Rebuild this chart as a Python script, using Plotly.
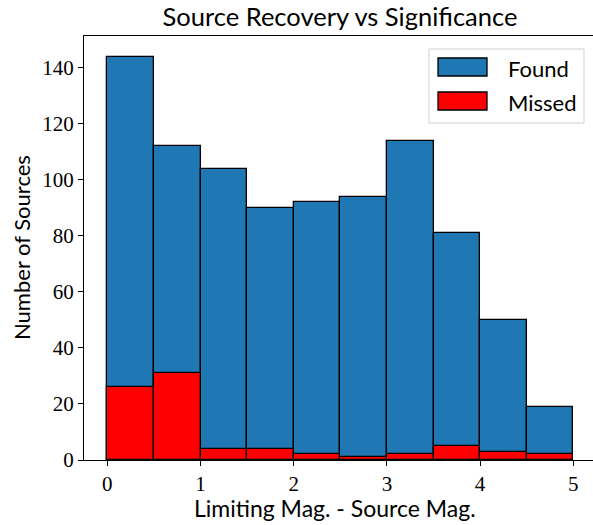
import plotly.graph_objects as go

bin_left = [0.0, 0.5, 1.0, 1.5, 2.0, 2.5, 3.0, 3.5, 4.0, 4.5]
bin_width = 0.5
found_counts = [144, 112, 104, 90, 92, 94, 114, 81, 50, 19]
missed_counts = [26, 31, 4, 4, 2, 1, 2, 5, 3, 2]
x_ticks = [0, 1, 2, 3, 4, 5]
y_ticks = [0, 20, 40, 60, 80, 100, 120, 140]

SANS = "Lato, DejaVu Sans, sans-serif"
SERIF = "Liberation Serif, DejaVu Serif, serif"

fig = go.Figure()
fig.add_trace(go.Bar(
    x=bin_left, y=found_counts, width=[bin_width] * len(bin_left), offset=0,
    name="Found", marker=dict(color="#1f77b4", line=dict(color="black", width=1.3)),
    showlegend=False,
))
fig.add_trace(go.Bar(
    x=bin_left, y=missed_counts, width=[bin_width] * len(bin_left), offset=0,
    name="Missed", marker=dict(color="#ff0000", line=dict(color="black", width=1.3)),
    showlegend=False,
))

W, H = 593, 525
L, R, T, B = 84, 0, 36, 65
PW, PH = W - L - R, H - T - B

fig.update_layout(
    width=W, height=H, barmode="overlay", bargap=0,
    margin=dict(l=L, r=R, t=T, b=B, autoexpand=False),
    plot_bgcolor="white", paper_bgcolor="white",
    title=dict(text="Source Recovery vs Significance", xref="container", yref="container",
               x=340 / W, xanchor="center",
               y=1 - 17 / H, yanchor="middle", font=dict(family=SANS, size=25.5, color="black")),
    xaxis=dict(range=[-0.25, -0.25 + PW / 93.2], tickvals=x_ticks, ticks="outside",
               ticklen=5, tickwidth=1, tickcolor="black", showline=True, linecolor="black",
               linewidth=1, mirror=True, showgrid=False, zeroline=False, automargin=False,
               tickfont=dict(family=SERIF, size=21, color="black"),
               title=dict(text="")),
    yaxis=dict(range=[0, 151.4], tickvals=y_ticks, ticks="outside", ticklen=5, tickwidth=1,
               tickcolor="black", showline=True, linecolor="black", linewidth=1, mirror=False,
               showgrid=False, zeroline=False, automargin=False,
               tickfont=dict(family=SERIF, size=21, color="black"),
               title=dict(text="")),
)

def px(x):
    return (x - L) / PW
def py(y):
    return (H - B - y) / PH

shapes = [
    dict(type="rect", xref="paper", yref="paper", x0=px(429), x1=px(584), y0=py(123), y1=py(49),
         line=dict(color="#d0d0d0", width=1), fillcolor="rgba(255,255,255,0.8)", layer="above"),
    dict(type="rect", xref="paper", yref="paper", x0=px(438), x1=px(487), y0=py(76), y1=py(58),
         line=dict(color="black", width=1.3), fillcolor="#1f77b4", layer="above"),
    dict(type="rect", xref="paper", yref="paper", x0=px(438), x1=px(487), y0=py(110), y1=py(92),
         line=dict(color="black", width=1.3), fillcolor="#ff0000", layer="above"),
]
annotations = [
    dict(text="Found", xref="paper", yref="paper", x=px(506), y=py(68), xanchor="left",
         yanchor="middle", showarrow=False, font=dict(family=SANS, size=22, color="black")),
    dict(text="Missed", xref="paper", yref="paper", x=px(506), y=py(102), xanchor="left",
         yanchor="middle", showarrow=False, font=dict(family=SANS, size=22, color="black")),
    dict(text="Limiting Mag. - Source Mag.", xref="paper", yref="paper", x=px(335), y=py(508),
         xanchor="center", yanchor="middle", showarrow=False,
         font=dict(family=SANS, size=23, color="black")),
    dict(text="Number of Sources", xref="paper", yref="paper", x=px(21), y=py(248),
         xanchor="center", yanchor="middle", showarrow=False, textangle=-90,
         font=dict(family=SANS, size=22, color="black")),
]
fig.update_layout(shapes=shapes, annotations=annotations)

fig.write_html("out.html", config={"displayModeBar": False},
               post_script="document.body.style.margin='0';document.body.style.overflow='hidden';")
